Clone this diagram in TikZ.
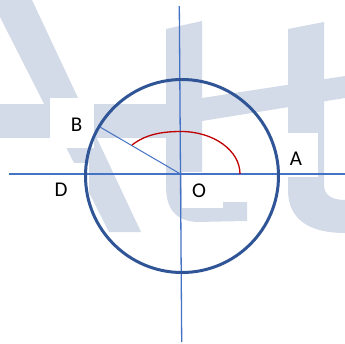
\documentclass[tikz,border=0pt]{standalone}
\usepackage{fontspec}
\setmainfont{Carlito}
\usepackage{xcolor}
\usetikzlibrary{positioning,calc}
\definecolor{axisblue}{RGB}{68,114,196}
\definecolor{ringblue}{RGB}{47,85,151}
\definecolor{arcred}{RGB}{192,0,0}
\definecolor{wmgrey}{RGB}{211,218,232}

\begin{document}
\begin{tikzpicture}[x=1pt, y=-1pt,
  wm/.style={fill=wmgrey, draw=none},
  patch/.style={fill=white, draw=none},
  lbl/.style={inner sep=0pt, font=\fontsize{21}{25}\selectfont}]
\useasboundingbox (0,0) rectangle (345,343);
% faint letters behind
\fill[wm] (0,0) -- (32,0) -- (141,232) -- (109,232) -- (0,17) -- cycle;
\fill[wm] (0,104) rectangle (167,138);
\fill[wm] (166,29) -- (202,21) -- (202,202) -- (247,202) -- (247,221) -- (196,222)
  .. controls (172,220) and (166,205) .. (166,185) -- cycle;
\fill[wm] (202,98) -- (345,76) -- (345,98) -- (202,121) -- cycle;
\fill[wm] (288,29) -- (324,22) -- (324,185) .. controls (324,195) and (332,200) .. (345,200)
  -- (345,233) .. controls (310,233) and (288,220) .. (288,190) -- cycle;
% white boxes under the labels
\fill[patch] (50,98) rectangle (94,148);
\fill[patch] (40,163) rectangle (89,212);
\fill[patch] (287,133) rectangle (318,177);
\fill[patch] (182,172) rectangle (223,208);
% points
\coordinate (O) at (180.5,174);
\coordinate (C) at (182,176);
\coordinate (L) at (9,174);
\coordinate (R) at (345,174);
\coordinate (T) at (179.3,6);
\coordinate (S) at (181.7,342);
\coordinate (Bp) at (100,127);
\coordinate (arcA) at (240,174);
\coordinate (arcB) at (132,145);
% axes, circle, radius
\draw[axisblue, line width=1.3pt] (L) -- (R);
\draw[axisblue, line width=1.3pt] (T) -- (S);
\draw[ringblue, line width=3pt] (C) circle[radius=96.5];
\draw[axisblue, line width=1pt] (Bp) -- (O);
\draw[arcred, line width=1.3pt] (arcA) .. controls (240,150.5) and (213.6,131.5) .. (181,131.5)
  .. controls (160,131.5) and (145,135) .. (arcB);
% labels
\node[lbl] (B) at (76.5,125) {B};
\node[lbl] (D) at (61,190) {D};
\node[lbl] (A) at (296,159) {A};
\node[lbl] (Olbl) at (199,191) {O};
\end{tikzpicture}
\end{document}
